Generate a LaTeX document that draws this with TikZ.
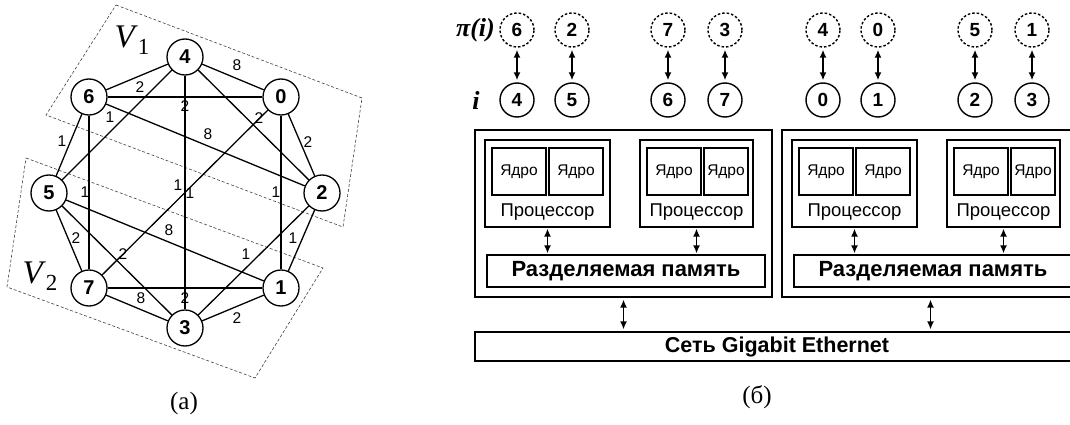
\documentclass[tikz,border=0pt]{standalone}
\usepackage{fontspec}
\setmainfont{Liberation Sans}
\newfontfamily\serifrm{Liberation Serif}
\usetikzlibrary{arrows.meta}
\begin{document}
\begin{tikzpicture}[x=1pt,y=-1pt,
  gnode/.style={circle,draw,line width=1.3pt,minimum size=36pt,inner sep=0pt,font=\fontsize{20}{20}\selectfont\bfseries},
  gedge/.style={line width=1.3pt},
  elab/.style={inner sep=0pt,font=\fontsize{15.5}{15.5}\selectfont},
  part/.style={draw=black!75,line width=0.6pt,dash pattern=on 3pt off 2pt},
  pnode/.style={circle,draw,line width=1.4pt,minimum size=34pt,inner sep=0pt,font=\fontsize{19}{19}\selectfont\bfseries},
  qnode/.style={pnode,dash pattern=on 2.5pt off 2pt},
  box/.style={draw,line width=1.2pt,inner sep=0pt},
  dar/.style={{Latex[length=8pt,width=7pt]}-{Latex[length=8pt,width=7pt]},line width=1.6pt},
  captext/.style={inner sep=0pt,font=\serifrm\fontsize{25}{25}\selectfont},
  kbox/.style={box,minimum height=47pt,font=\fontsize{15.5}{15.5}\selectfont},
]
\useasboundingbox (0,0) rectangle (1070,425);
\clip (0,0) rectangle (1070,425);

% ---------- (a) graph ----------
\draw[part] (116,5) -- (362,98) -- (343,227) -- (46,115) -- cycle;
\draw[part] (26,158) -- (323,268) -- (255,378) -- (7,287) -- cycle;
\node[inner sep=0pt] (v1) at (132,40) {\serifrm\fontsize{33}{33}\selectfont\itshape V\/\raisebox{-7pt}{\upshape\fontsize{23}{23}\selectfont 1}};
\node[inner sep=0pt] (v2) at (40,276) {\serifrm\fontsize{33}{33}\selectfont\itshape V\/\raisebox{-7pt}{\upshape\fontsize{23}{23}\selectfont 2}};

\node[gnode] (g4) at (185,57) {4};
\node[gnode] (g6) at (89,97) {6};
\node[gnode] (g0) at (281,97) {0};
\node[gnode] (g5) at (49,193) {5};
\node[gnode] (g2) at (322,193) {2};
\node[gnode] (g7) at (89,288) {7};
\node[gnode] (g1) at (281,288) {1};
\node[gnode] (g3) at (185,328) {3};

\foreach \a/\b in {4/6,4/0,4/5,4/3,4/2,6/0,6/2,6/5,6/7,0/2,0/7,0/1,5/1,5/7,5/3,2/1,2/3,7/1,7/3,3/1}
  \draw[gedge] (g\a) -- (g\b);

\foreach \n/\x/\y/\t in {1/140/87/2, 2/237/65/8, 3/110/117/1, 4/185/106/2, 5/208/134/8,
  6/62/141/1, 7/259/118/2, 8/308/142/2, 9/85/192/1, 10/178/185/1, 11/190/193/1,
  12/276/192/1, 13/169/230/8, 14/76/238/2, 15/123/254/2, 16/293/238/1, 17/246/254/1,
  18/141/298/8, 19/185/298/2, 20/237/318/2}
  \node[elab] (l\n) at (\x,\y) {\t};

\node[captext] (capa) at (184,403) {(a)};

% ---------- (b) cluster ----------
\node[inner sep=0pt,anchor=east] (pilab) at (495,30) {\serifrm\fontsize{26}{26}\selectfont\bfseries\itshape π(i)};
\node[inner sep=0pt] (ilab) at (476,100) {\serifrm\fontsize{26}{26}\selectfont\bfseries\itshape i};

\foreach \k/\x/\p/\i in {1/517/6/4, 2/572/2/5, 3/668/7/6, 4/725/3/7,
                        5/823/4/0, 6/878/0/1, 7/975/5/2, 8/1032/1/3} {
  \node[qnode] (q\k) at (\x,30) {\p};
  \node[pnode] (c\k) at (\x,100) {\i};
  \draw[dar] ([yshift=-2pt]q\k.south) -- ([yshift=2pt]c\k.north);
}

\foreach \s/\d in {A/0,B/307} {
  \begin{scope}[xshift=\d pt]
  \node[box,minimum width=297pt,minimum height=167pt] (out\s) at (623.5,213.5) {};
  \node[box,minimum width=125pt,minimum height=87pt] (pa\s) at (547.5,183.5) {};
  \node[box,minimum width=113pt,minimum height=87pt] (pb\s) at (696.5,183.5) {};
  \node[kbox,minimum width=54pt] (ka\s) at (519,171.5) {Ядро};
  \node[kbox,minimum width=54pt] (kb\s) at (576,171.5) {Ядро};
  \node[kbox,minimum width=54pt] (kc\s) at (674,171.5) {Ядро};
  \node[kbox,minimum width=44pt] (kd\s) at (726,171.5) {Ядро};
  \node[inner sep=0pt,font=\fontsize{18.5}{18.5}\selectfont] (ta\s) at (547.5,212) {Процессор};
  \node[inner sep=0pt,font=\fontsize{18.5}{18.5}\selectfont] (tb\s) at (696.5,212) {Процессор};
  \node[box,minimum width=278pt,minimum height=32pt,font=\fontsize{22}{22}\selectfont\bfseries] (mem\s) at (626,271) {Разделяемая память};
  \end{scope}
  \draw[dar] ([yshift=-1pt]pa\s.south) -- ([yshift=1pt]pa\s.south |- mem\s.north);
  \draw[dar] ([yshift=-1pt]pb\s.south) -- ([yshift=1pt]pb\s.south |- mem\s.north);
}

\node[box,minimum width=604pt,minimum height=29pt,font=\fontsize{21.5}{21.5}\selectfont\bfseries] (eth) at (777,346.5) {Сеть Gigabit Ethernet};
\draw[dar] ([yshift=-2pt]outA.south) -- ([yshift=2pt]outA.south |- eth.north);
\draw[dar] ([yshift=-2pt]outB.south) -- ([yshift=2pt]outB.south |- eth.north);

\node[captext] (capb) at (757,397) {(б)};
\end{tikzpicture}
\end{document}
